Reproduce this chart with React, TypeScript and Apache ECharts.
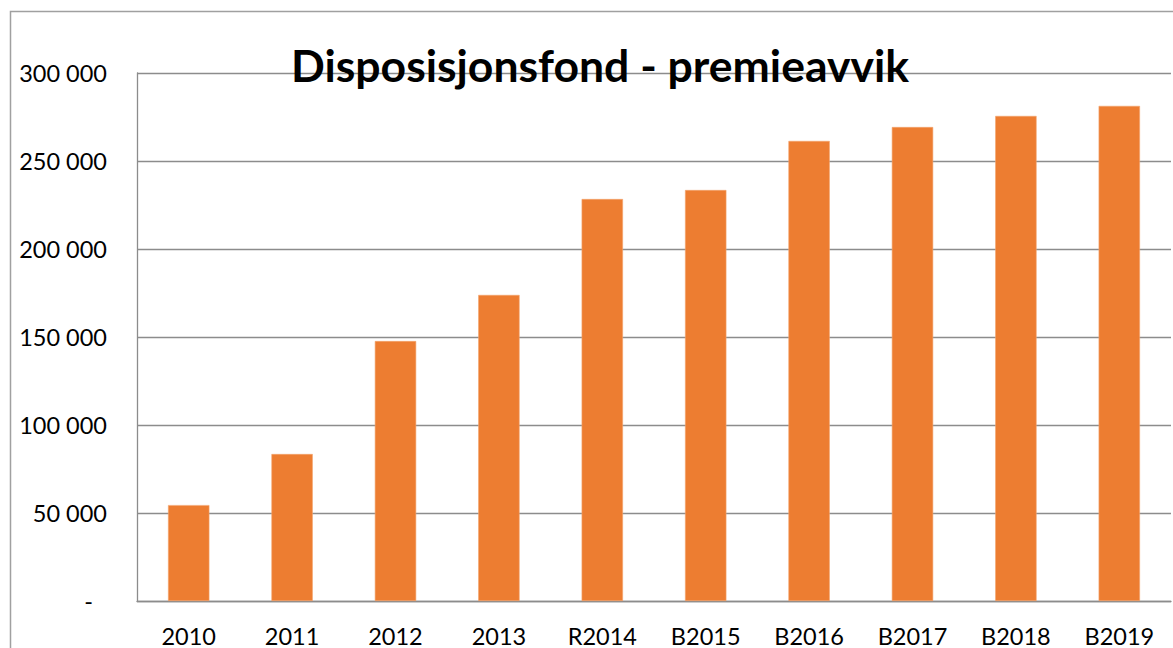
import React, { useEffect, useRef } from "react";
import * as echarts from "echarts";

const categories = ["2010", "2011", "2012", "2013", "R2014", "B2015", "B2016", "B2017", "B2018", "B2019"];
const values = [54500, 83500, 147700, 173900, 228400, 233500, 261400, 269300, 275600, 281300];
const yTicks = { min: 0, max: 300000, interval: 50000 };
const title = "Disposisjonsfond - premieavvik";

function fmt(v: number): string {
  if (v === 0) return "{d|-}";
  const s = Math.round(v).toString();
  return s.replace(/\B(?=(\d{3})+(?!\d))/g, " ");
}

export default function App() {
  const ref = useRef<HTMLDivElement>(null);
  useEffect(() => {
    if (!ref.current) return;
    const chart = echarts.init(ref.current, null, { renderer: "svg" });
    chart.setOption({
      animation: false,
      backgroundColor: "#ffffff",
      textStyle: { fontFamily: "Lato" },
      title: {
        text: title,
        left: 595,
        top: 37,
        textAlign: "center",
        textStyle: { fontFamily: "Lato", fontWeight: "bold", fontSize: 44.5, color: "#000" },
      },
      graphic: [
        {
          type: "rect",
          shape: { x: 10.5, y: 11.5, width: 1200, height: 700 },
          style: { fill: "none", stroke: "#a0a0a0", lineWidth: 1.5 },
          z: -1,
        },
      ],
      grid: { left: 137, right: 2, top: 73, bottom: 47, containLabel: false },
      xAxis: {
        type: "category",
        data: categories,
        axisLine: { lineStyle: { color: "#8c8c8c", width: 1.3 } },
        axisTick: { show: false },
        axisLabel: { color: "#000", fontSize: 23.5, fontFamily: "Lato", margin: 25, lineHeight: 19 },
      },
      yAxis: {
        type: "value",
        min: yTicks.min,
        max: yTicks.max,
        interval: yTicks.interval,
        axisLine: { show: true, lineStyle: { color: "#8c8c8c", width: 1.3 } },
        axisTick: { show: false },
        splitLine: { lineStyle: { color: "#8c8c8c", width: 1.3 } },
        axisLabel: {
          color: "#000",
          fontSize: 23.5,
          fontFamily: "Lato",
          margin: 30,
          formatter: fmt,
          rich: { d: { fontSize: 23.5, fontFamily: "Lato", color: "#000", padding: [0, 14, 0, 0] } },
        },
      },
      series: [
        {
          type: "bar",
          data: values,
          barWidth: "40%",
          itemStyle: { color: "#ED7D31", borderColor: "#F4A46E", borderWidth: 0.6 },
        },
      ],
    });
    return () => chart.dispose();
  }, []);
  return <div ref={ref} style={{ position: "fixed", left: 0, top: 0, width: 1173, height: 648 }} />;
}
